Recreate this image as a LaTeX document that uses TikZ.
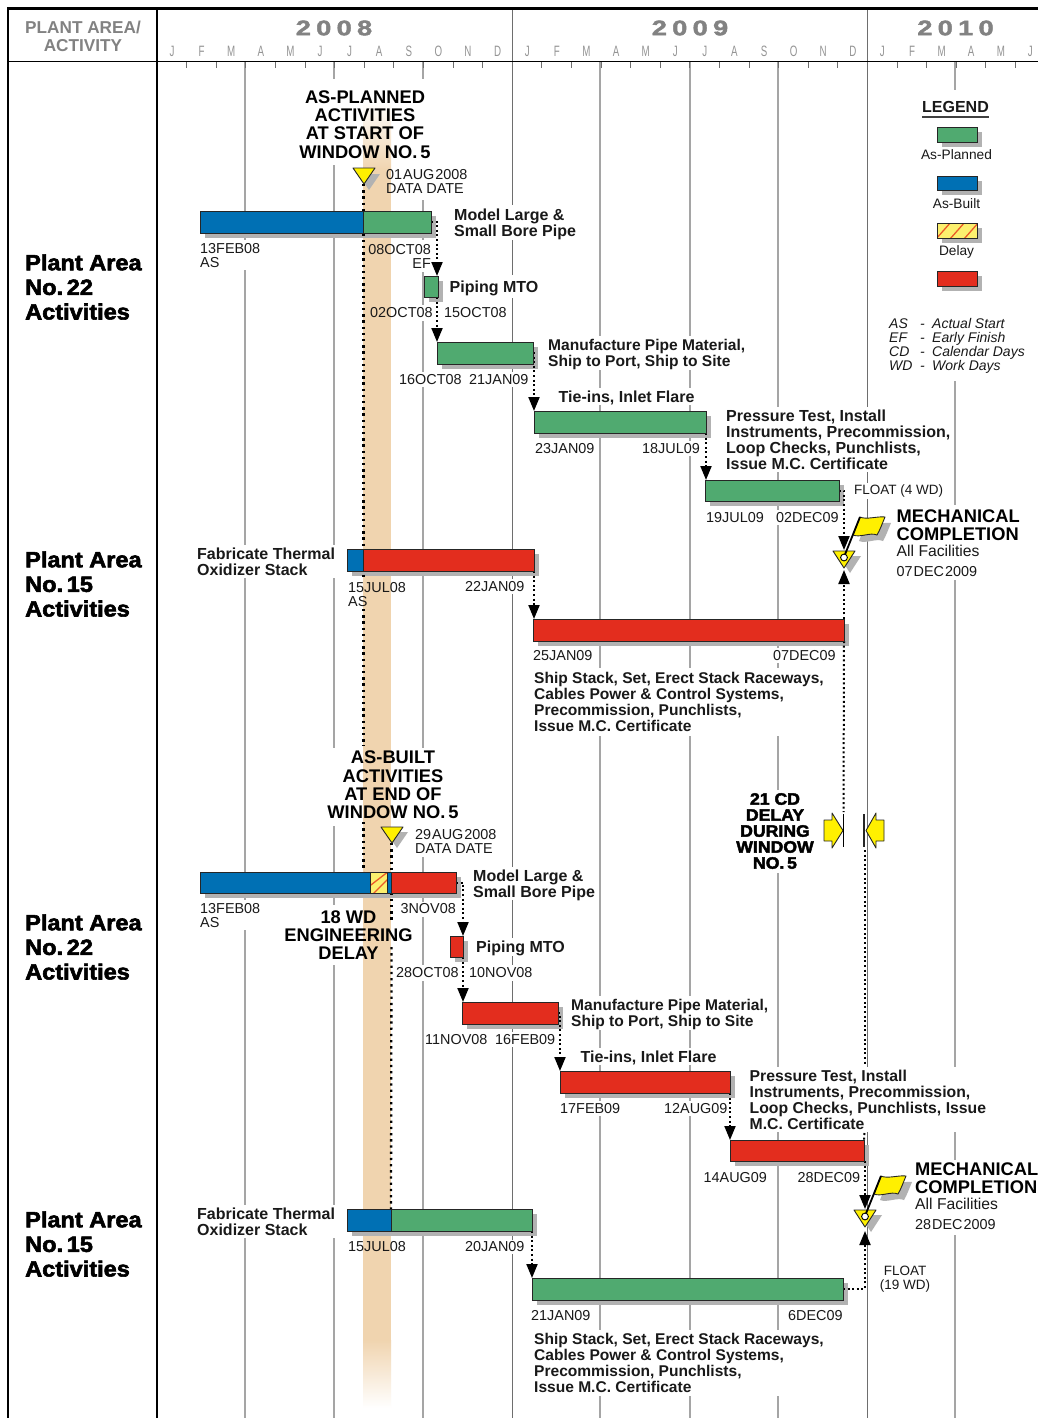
\documentclass[tikz,border=0pt]{standalone}
\usepackage{fontspec}
\setmainfont{Liberation Sans}
\newfontfamily\blackfont[FakeStretch=1.07,FakeBold=2.6]{Liberation Sans Bold}
\newfontfamily\yearfont[FakeStretch=1.3,FakeBold=2,LetterSpace=25]{Liberation Sans Bold}
\newfontfamily\monthfont[FakeStretch=0.65]{Liberation Sans}
\usetikzlibrary{arrows.meta}
\pgfdeclarelayer{gridlayer}
\pgfdeclarelayer{shadowlayer}
\pgfdeclarelayer{connlayer}
\pgfsetlayers{gridlayer,shadowlayer,connlayer,main}
\definecolor{plangreen}{RGB}{80,170,112}
\definecolor{builtblue}{RGB}{0,112,180}
\definecolor{delayred}{RGB}{227,45,30}
\definecolor{hatchyellow}{RGB}{252,240,110}
\definecolor{hatchline}{RGB}{235,90,40}
\definecolor{peach}{RGB}{240,212,175}
\definecolor{flagyellow}{RGB}{255,240,0}
\definecolor{gridgrey}{RGB}{165,165,165}
\definecolor{yeargrey}{RGB}{110,110,110}
\definecolor{headgrey}{RGB}{130,130,130}
\definecolor{shadowgrey}{RGB}{178,178,178}
\definecolor{inktext}{RGB}{25,25,25}
\tikzset{
  ganttbar/.style={draw=black!85,line width=0.9pt,inner sep=0pt,outer sep=0pt,minimum width=#1},
  lab/.style={font=\fontsize{14.4}{14}\selectfont,text=inktext,inner sep=0pt,align=left},
  act/.style={font=\fontsize{16}{16}\selectfont\bfseries,text=inktext,inner sep=0pt,align=left},
  actlong/.style={font=\fontsize{15.55}{16}\selectfont\bfseries,text=inktext,inner sep=0pt,align=left},
  headtxt/.style={font=\fontsize{18.3}{18.3}\selectfont\bfseries,text=black,inner sep=0pt,align=center},
  blk/.style={font=\fontsize{22}{24.6}\selectfont\blackfont,text=black,inner sep=0pt,align=left},
  blksmall/.style={font=\fontsize{16.5}{16}\selectfont\blackfont,text=black,inner sep=0pt,align=center},
  ital/.style={font=\fontsize{14}{13.7}\selectfont\itshape,text=inktext,inner sep=0pt,align=left,text height=10pt,text depth=3pt},
  monthtxt/.style={font=\fontsize{15}{15}\selectfont\monthfont,text=gridgrey!90!black,inner sep=0pt},
  yeartxt/.style={font=\fontsize{21}{21}\selectfont\yearfont,text=headgrey,inner sep=0pt},
  link/.style={line width=2pt,dash pattern=on 2pt off 2.6pt,-{Triangle[width=11pt,length=14pt]}},
  linkplain/.style={line width=2pt,dash pattern=on 2pt off 2.6pt},
  dateline/.style={line width=2.3pt,dash pattern=on 2.3pt off 3.9pt},
  marker/.style={fill=flagyellow,draw=black!85,line width=0.9pt,line join=round},
  shadowfill/.style={fill=shadowgrey},
}
% name, x1, x2, y1, y2, style options
\newcommand{\gbar}[6]{%
  \begin{pgfonlayer}{shadowlayer}\fill[shadowfill] ({#2+5},{#4+5}) rectangle ({#3+5},{#5+5});\end{pgfonlayer}
  \node[ganttbar={(#3-#2)*1pt},minimum height={(#5-#4)*1pt},#6] (#1) at ({(#2+#3)/2},{(#4+#5)/2}) {};}
\newcommand{\flagmark}[2]{%
  \begin{scope}[shift={(#1,#2)}]
    \fill[shadowfill] (839,556) -- (861,556) -- (850,573) -- cycle;
    \fill[shadowfill] (866,523) .. controls (872,526) and (884,522) .. (891,523) .. controls (888,530) and (886,536) .. (883,541) .. controls (876,538) and (866,544) .. (859,541) -- cycle;
    \path[marker] (833,551) -- (855,551) -- (844,568) -- cycle;
    \path[marker] (860,517) .. controls (866,520) and (878,516) .. (885,517) .. controls (882,524) and (880,530) .. (877,535) .. controls (870,532) and (860,538) .. (853,535) -- cycle;
    \draw[black,line width=1.8pt] (844,557) -- (860,517);
    \draw[black,fill=white,line width=0.9pt] (844,557.5) circle (3.4);
  \end{scope}}
\begin{document}
\begin{tikzpicture}[x=1pt,y=-1pt]
\useasboundingbox (0,0) rectangle (1038,1418);
\begin{pgfonlayer}{gridlayer}
  \fill[white] (0,0) rectangle (1038,1418);
  \foreach \gx in {245,334,423,600,690,778,955}{\draw[gridgrey,line width=1.2pt] (\gx,62) -- (\gx,1418);}
  \foreach \gx in {512.5,867.5}{\draw[yeargrey,line width=1.6pt] (\gx,8) -- (\gx,1418);}
  \foreach \k in {1,...,29}{\draw[yeargrey,line width=1pt] ({157+29.6*\k},62) -- ({157+29.6*\k},68);}
  \foreach \xa/\ya/\xb/\yb in {
    300/79/430/165, 380/165/465/200, 450/205/578/240, 200/240/262/270, 367/240/432/272,
    449/275/540/298, 370/305/508/321, 547/336/745/370, 398/372/530/387, 558/388/697/405,
    725/407/952/472, 534/441/595/456, 642/441/702/456, 853/483/943/499, 706/510/840/525,
    895/505/1022/580, 196/545/337/578, 348/579/407/608, 465/579/526/594, 533/648/594/663,
    772/648/836/663, 533/668/822/736, 328/748/460/826, 400/826/495/857, 735/790/815/873,
    472/867/597/900, 200/900/262/930, 400/902/458/917, 284/905/413/965, 475/938/566/956,
    395/965/533/981, 570/996/768/1030, 425/1032/556/1047, 580/1048/718/1065, 748/1067/986/1132,
    560/1101/622/1116, 663/1101/727/1116, 703/1170/767/1185, 797/1170/862/1185,
    914/1160/1038/1235, 196/1205/337/1238, 348/1240/407/1254, 465/1240/526/1254,
    880/1265/930/1295, 531/1308/592/1323, 786/1308/844/1323, 533/1330/822/1396,
    885/90/1030/381}{\fill[white] (\xa,\ya) rectangle (\xb,\yb);}
  \shade[top color=white,bottom color=peach] (363,100) rectangle (391,170);
  \fill[peach] (363,170) rectangle (391,1340);
  \shade[top color=peach,bottom color=white] (363,1340) rectangle (391,1408);
\end{pgfonlayer}
% frame
\draw[black,line width=2.4pt] (8,1418) -- (8,8.5) -- (1038,8.5);
\draw[black,line width=2pt] (157,8) -- (157,1418);
\draw[black,line width=1.8pt] (8,61.5) -- (1038,61.5);
% header
\node[font=\fontsize{17.2}{18}\selectfont\bfseries,text=headgrey,align=center,inner sep=0pt] (headarea) at (83,36) {PLANT AREA/\\ACTIVITY};
\node[yeartxt] (y2008) at (334,28) {2008};
\node[yeartxt] (y2009) at (690,28) {2009};
\node[yeartxt] (y2010) at (955.5,28) {2010};
\foreach \k/\m in {0/J,1/F,2/M,3/A,4/M,5/J,6/J,7/A,8/S,9/O,10/N,11/D,12/J,13/F,14/M,15/A,16/M,17/J,18/J,19/A,20/S,21/O,22/N,23/D,24/J,25/F,26/M,27/A,28/M,29/J}{
  \node[monthtxt] (mon\k) at ({172+29.6*\k},51) {\m};}
% area labels
\node[blk,anchor=west] (pa1) at (25,287) {Plant Area\\No.\,22\\Activities};
\node[blk,anchor=west] (pa2) at (25,584) {Plant Area\\No.\,15\\Activities};
\node[blk,anchor=west] (pa3) at (25,947) {Plant Area\\No.\,22\\Activities};
\node[blk,anchor=west] (pa4) at (25,1244) {Plant Area\\No.\,15\\Activities};
% bars, as planned
\gbar{a1b}{200}{363.5}{211}{233}{fill=builtblue}
\gbar{a1g}{363.5}{431}{211}{233}{fill=plangreen}
\gbar{a2}{424}{438}{276}{297}{fill=plangreen}
\gbar{a3}{437}{533}{342}{364}{fill=plangreen}
\gbar{a4}{534}{706}{411}{433}{fill=plangreen}
\gbar{a5}{705}{839}{480}{501}{fill=plangreen}
\gbar{a6b}{347}{363.5}{549}{571}{fill=builtblue}
\gbar{a6r}{363.5}{534}{549}{571}{fill=delayred}
\gbar{a7}{533}{844}{619}{641}{fill=delayred}
% bars, as built
\gbar{b1b}{200}{370}{872}{893}{fill=builtblue}
\gbar{b1h}{370}{387}{872}{893}{fill=hatchyellow}
\begin{scope}
  \clip (b1h.south west) rectangle (b1h.north east);
  \draw[hatchline,line width=1.3pt] (367,888) -- (389,871);
  \draw[hatchline,line width=1.3pt] (372,895) -- (389,878);
\end{scope}
\draw[black!85,line width=0.9pt] (b1h.south west) rectangle (b1h.north east);
\gbar{b1c}{387}{391}{872}{893}{fill=builtblue}
\gbar{b1r}{391}{456}{872}{893}{fill=delayred}
\gbar{b2}{450}{463}{936}{957}{fill=delayred}
\gbar{b3}{462}{558}{1002}{1024}{fill=delayred}
\gbar{b4}{560}{730}{1071}{1093}{fill=delayred}
\gbar{b5}{730}{864}{1140}{1161}{fill=delayred}
\gbar{b6b}{347}{391}{1209}{1231}{fill=builtblue}
\gbar{b6g}{391}{532}{1209}{1231}{fill=plangreen}
\gbar{b7}{532}{843}{1278}{1300}{fill=plangreen}
% legend
\gbar{leg1}{937}{977}{127}{142}{fill=plangreen}
\gbar{leg2}{937}{977}{176}{190}{fill=builtblue}
\gbar{leg3}{937}{977}{223}{238}{fill=hatchyellow}
\begin{scope}
  \clip (leg3.south west) rectangle (leg3.north east);
  \foreach \hx in {936,950,964}{\draw[hatchline,line width=1.3pt] (\hx,239) -- ({\hx+15},222);}
\end{scope}
\draw[black!85,line width=0.9pt] (leg3.south west) rectangle (leg3.north east);
\gbar{leg4}{937}{977}{271}{286}{fill=delayred}
\node[act,anchor=center] (legtitle) at (955.5,107) {LEGEND};
\draw[black!75,line width=1.4pt] (922,117) -- (989,117);
\node[lab,font=\fontsize{13.7}{14}\selectfont] (legt1) at (956.5,155) {As-Planned};
\node[lab,font=\fontsize{13.7}{14}\selectfont] (legt2) at (956.5,203.5) {As-Built};
\node[lab,font=\fontsize{13.7}{14}\selectfont] (legt3) at (956.5,251.5) {Delay};
\foreach \yy/\ab/\desc [count=\n] in {325/AS/Actual Start,339/EF/Early Finish,353/CD/Calendar Days,366.5/WD/Work Days}{
  \node[ital,anchor=west] (abk\n) at (889,\yy) {\ab};
  \node[ital,anchor=west] (abd\n) at (920,\yy) {-};
  \node[ital,anchor=west] (abv\n) at (932,\yy) {\desc};}
% free connector ends
\coordinate (dd1) at (363.5,184);
\coordinate (dd1a) at (363.5,578);
\coordinate (dd1b) at (363.5,609);
\coordinate (dd1c) at (363.5,746);
\coordinate (dd1d) at (363.5,822);
\coordinate (dd1end) at (363.5,872);
\coordinate (dd2) at (391.5,843);
\coordinate (dd2a) at (391.5,923);
\coordinate (dd2b) at (391.5,947);
\coordinate (mc1top) at (844,550);
\coordinate (mc1bot) at (844,570);
\coordinate (mc2top) at (865,1209);
\coordinate (mc2bot) at (865,1231);
\coordinate (win1) at (843.5,812);
\coordinate (win2) at (865,850);
\coordinate (win2a) at (865,1065);
\coordinate (win2b) at (864.5,1133);
% connectors
\begin{pgfonlayer}{connlayer}
  \draw[dateline] (dd1) -- (dd1a);
  \draw[dateline] (dd1b) -- (dd1c);
  \draw[dateline] (dd1d) -- (dd1end);
  \draw[dateline] (dd2) -- (dd2a);
  \draw[dateline] (dd2b) -- (b6g.north west);
  \draw[link] (a1g.east) -| ([xshift=-1pt]a2.north east);
  \draw[link] ([xshift=-1pt]a2.south east) -- (a3.north west);
  \draw[link] (a3.east) -| (a4.north west);
  \draw[link] (a4.south east) -- (a5.north east -| a4.south east);
  \draw[link] (a5.east) -| (mc1top);
  \draw[link] (a6r.south east) -- (a7.north west -| a6r.south east);
  \draw[link] (a7.north east) -- (mc1bot);
  \draw[linkplain] (a7.south east) -- (win1);
  \draw[linkplain] (win2) -- (win2a);
  \draw[linkplain] (win2b) -- (b5.north east);
  \draw[link] (b1r.east) -| (b2.north east);
  \draw[link] (b2.south east) -- (b3.north west -| b2.south east);
  \draw[link] (b3.east) -| (b4.north west);
  \draw[link] (b4.south east) -- (b5.north west);
  \draw[link] (b5.south east) ++(1,0) -- (mc2top);
  \draw[link] (b7.east) -| (mc2bot);
  \draw[link] (b6g.south east) -- (b7.north west);
\end{pgfonlayer}
% data date markers
\begin{pgfonlayer}{shadowlayer}
  \fill[shadowfill] (358,174) -- (380,174) -- (369,190) -- cycle;
  \fill[shadowfill] (386,832) -- (408,832) -- (397,848) -- cycle;
\end{pgfonlayer}
\path[marker] (353,168) -- (375,168) -- (364,184) -- cycle;
\path[marker] (381,827) -- (403,827) -- (392,843) -- cycle;
\flagmark{0}{0}
\flagmark{21}{659}
% window delay dimension
\path[marker] (824,820) -- (832,820) -- (832,813) -- (843,830.5) -- (832,848) -- (832,841) -- (824,841) -- cycle;
\path[marker] (884,820) -- (876,820) -- (876,813) -- (866,830.5) -- (876,848) -- (876,841) -- (884,841) -- cycle;
\draw[black,line width=1.2pt] (843.5,814) -- (843.5,847);
\draw[black!85,line width=2pt] (864,814) -- (864,847);
% headings
\node[headtxt] (h1) at (365,124.5) {AS-PLANNED\\ACTIVITIES\\AT START OF\\WINDOW NO.\,5};
\node[headtxt] (h2) at (393,785) {AS-BUILT\\ACTIVITIES\\AT END OF\\WINDOW NO.\,5};
\node[headtxt] (h3) at (348.5,935) {18 WD\\ENGINEERING\\DELAY};
\node[blksmall] (h4) at (775,831) {21 CD\\DELAY\\DURING\\WINDOW\\NO.\,5};
% upper section labels
\node[lab,anchor=west] (d1) at (386,181) {01\kern1pt AUG\kern1pt 2008\\DATA DATE};
\node[act,anchor=west] (t1) at (454,224) {Model Large \&\\Small Bore Pipe};
\node[lab,anchor=west] (d2) at (200,256) {13FEB08\\AS};
\node[lab,align=right,anchor=east] (d3) at (431,256) {08OCT08\\EF};
\node[act,anchor=west] (t2) at (449.5,288) {Piping MTO};
\node[lab,anchor=west] (d4) at (370,313) {02OCT08};
\node[lab,anchor=west] (d5) at (444,313) {15OCT08};
\node[actlong,anchor=west] (t3) at (548,354) {Manufacture Pipe Material,\\Ship to Port, Ship to Site};
\node[lab,anchor=west] (d6) at (399,380) {16OCT08};
\node[lab,anchor=west] (d7) at (469,380) {21JAN09};
\node[act,anchor=west] (t4) at (558.5,398) {Tie-ins, Inlet Flare};
\node[act,anchor=west] (t5) at (726,440) {Pressure Test, Install\\Instruments, Precommission,\\Loop Checks, Punchlists,\\Issue M.C. Certificate};
\node[lab,anchor=west] (d8) at (535,449) {23JAN09};
\node[lab,anchor=west] (d9) at (642,449) {18JUL09};
\node[lab,anchor=west,font=\fontsize{13.5}{14}\selectfont] (f1) at (854,491) {FLOAT (4 WD)};
\node[lab,anchor=west] (d10) at (706,518) {19JUL09};
\node[lab,anchor=west] (d11) at (776,518) {02DEC09};
\node[headtxt,align=left,anchor=west] (mc1) at (896.5,525) {MECHANICAL\\COMPLETION};
\node[lab,anchor=west,font=\fontsize{15.7}{16}\selectfont] (mc1a) at (896.5,551) {All Facilities};
\node[lab,anchor=west] (mc1d) at (896.5,571.5) {07\kern1pt DEC\kern1pt 2009};
\node[act,anchor=west] (t6) at (197,561.5) {Fabricate Thermal\\Oxidizer Stack};
\node[lab,anchor=west] (d12) at (348,595) {15JUL08\\AS};
\node[lab,anchor=west] (d13) at (465,587) {22JAN09};
\node[lab,anchor=west] (d14) at (533,656) {25JAN09};
\node[lab,anchor=west] (d15) at (773,656) {07DEC09};
\node[actlong,anchor=west] (t7) at (534,702) {Ship Stack, Set, Erect Stack Raceways,\\Cables Power \& Control Systems,\\Precommission, Punchlists,\\Issue M.C. Certificate};
% lower section labels
\node[lab,anchor=west] (e1) at (415,841) {29\kern1pt AUG\kern1pt 2008\\DATA DATE};
\node[act,anchor=west] (u1) at (473,885) {Model Large \&\\Small Bore Pipe};
\node[lab,anchor=west] (e2) at (200,916) {13FEB08\\AS};
\node[lab,anchor=east] (e3) at (456,909) {3NOV08};
\node[act,anchor=west] (u2) at (476,948) {Piping MTO};
\node[lab,anchor=west] (e4) at (396,973) {28OCT08};
\node[lab,anchor=west] (e5) at (469,973) {10NOV08};
\node[actlong,anchor=west] (u3) at (571,1014) {Manufacture Pipe Material,\\Ship to Port, Ship to Site};
\node[lab,anchor=west] (e6) at (425,1040) {11NOV08};
\node[lab,anchor=west] (e7) at (495,1040) {16FEB09};
\node[act,anchor=west] (u4) at (580.5,1058) {Tie-ins, Inlet Flare};
\node[act,anchor=west,font=\fontsize{15.75}{16}\selectfont\bfseries] (u5) at (749.5,1100) {Pressure Test, Install\\Instruments, Precommission,\\Loop Checks, Punchlists, Issue\\M.C. Certificate};
\node[lab,anchor=west] (e8) at (560,1109) {17FEB09};
\node[lab,anchor=west] (e9) at (664,1109) {12AUG09};
\node[lab,anchor=west] (e10) at (703.5,1178) {14AUG09};
\node[lab,anchor=west] (e11) at (797.5,1178) {28DEC09};
\node[headtxt,align=left,anchor=west] (mc2) at (915,1178) {MECHANICAL\\COMPLETION};
\node[lab,anchor=west,font=\fontsize{15.7}{16}\selectfont] (mc2a) at (915,1204) {All Facilities};
\node[lab,anchor=west] (mc2d) at (915,1224.5) {28\kern1pt DEC\kern1pt 2009};
\node[act,anchor=west] (u6) at (197,1221.5) {Fabricate Thermal\\Oxidizer Stack};
\node[lab,anchor=west] (e12) at (348,1247) {15JUL08};
\node[lab,anchor=west] (e13) at (465,1247) {20JAN09};
\node[lab,align=center,font=\fontsize{13.5}{14}\selectfont] (f2) at (905,1279) {FLOAT\\(19 WD)};
\node[lab,anchor=west] (e14) at (531,1316) {21JAN09};
\node[lab,anchor=west] (e15) at (788,1316) {6DEC09};
\node[actlong,anchor=west] (u7) at (534,1363) {Ship Stack, Set, Erect Stack Raceways,\\Cables Power \& Control Systems,\\Precommission, Punchlists,\\Issue M.C. Certificate};
\end{tikzpicture}
\end{document}
